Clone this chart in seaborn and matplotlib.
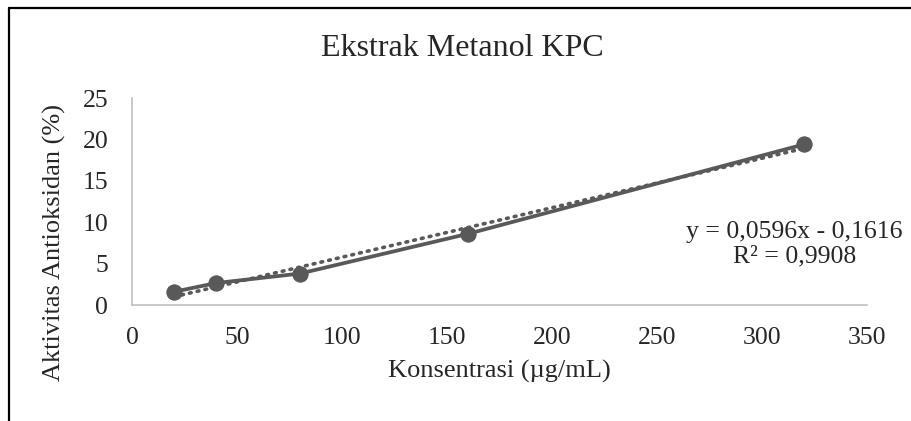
import numpy as np
import pandas as pd
import matplotlib
matplotlib.use("Agg")
import matplotlib.pyplot as plt
import seaborn as sns
from matplotlib.lines import Line2D

konsentrasi = [20, 40, 80, 160, 320]
aktivitas = [1.6, 2.65, 3.8, 8.6, 19.4]
xticks = [0, 50, 100, 150, 200, 250, 300, 350]
yticks = [0, 5, 10, 15, 20, 25]
persamaan = "y = 0,0596x - 0,1616\nR\u00b2 = 0,9908"

df = pd.DataFrame({"x": konsentrasi, "y": aktivitas})

sns.set_style("white")
plt.rcParams["font.family"] = ["Liberation Serif", "DejaVu Serif"]

fig = plt.figure(figsize=(9.12, 4.21), dpi=100)
ax = fig.add_axes([0.1447, 0.2755, 0.806, 0.4917])

grey = "#595959"
# trendline (linear fit, dotted)
sns.regplot(data=df, x="x", y="y", ax=ax, scatter=False, ci=None,
            line_kws=dict(color=grey, lw=2.6, ls=(0, (0.5, 1.7)),
                          dash_capstyle="round"))
sns.lineplot(data=df, x="x", y="y", ax=ax, color=grey, lw=2.7,
             marker="o", markersize=11, markeredgecolor=grey)

ax.set_xlim(0, 350)
ax.set_ylim(0, 25)
ax.set_xticks(xticks)
ax.set_yticks(yticks)
ax.tick_params(labelsize=18.5, length=0)
ax.tick_params(axis="x", pad=16)
ax.tick_params(axis="y", pad=17)
for s in ["top", "right"]:
    ax.spines[s].set_visible(False)
for s in ["left", "bottom"]:
    ax.spines[s].set_color("#BFBFBF")
    ax.spines[s].set_linewidth(1.2)

ax.set_xlabel("Konsentrasi (\u00b5g/mL)", fontsize=19, labelpad=8)
ax.set_ylabel("Aktivitas Antioksidan (%)", fontsize=19)
ax.yaxis.set_label_coords(-0.09, 0.3)
fig.text(0.507, 0.884, "Ekstrak Metanol KPC", fontsize=23, ha="center", va="center")
fig.text(0.871, 0.42, persamaan, fontsize=18.5, ha="center", va="center",
         linespacing=1.1)

# outer border (cropped at right and bottom)
fig.add_artist(Line2D([0.0104, 0.0104], [0, 0.981], color="black", lw=1.6,
                      transform=fig.transFigure))
fig.add_artist(Line2D([0.0104, 1], [0.981, 0.981], color="black", lw=1.6,
                      transform=fig.transFigure))

fig.savefig("out.png", dpi=100, facecolor="white")
